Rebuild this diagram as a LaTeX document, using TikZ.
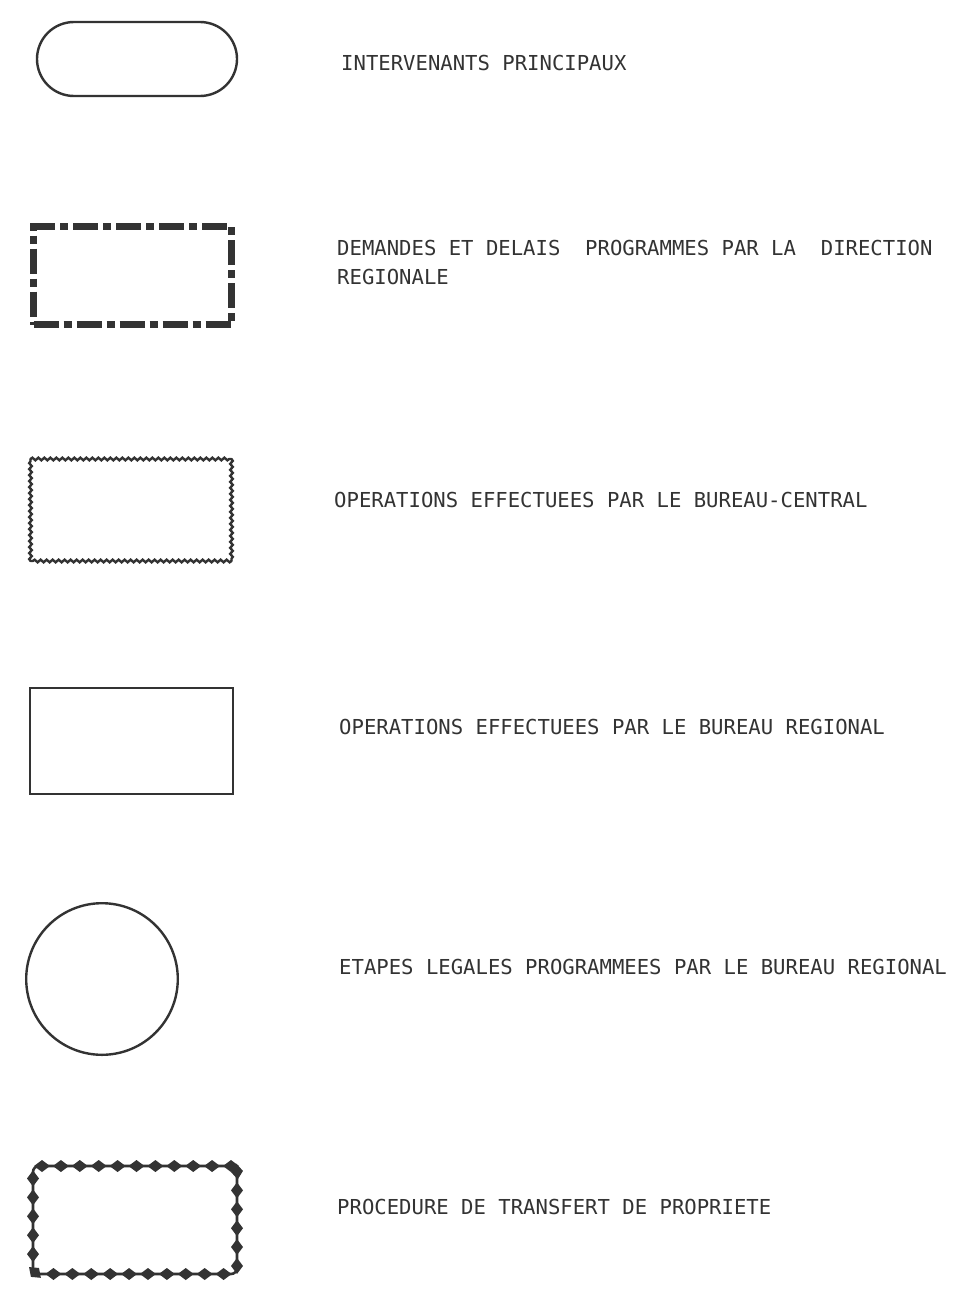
\documentclass[tikz,border=0pt]{standalone}
\usepackage{fontspec}
\newfontfamily\tw{DejaVu Sans Mono}
\usetikzlibrary{decorations.pathmorphing,decorations.markings}
\definecolor{ink}{HTML}{333333}
\begin{document}
\begin{tikzpicture}[x=1pt,y=-1pt,
  shp/.style={draw=ink, fill=none, inner sep=0pt, outer sep=0pt},
  lbl/.style={anchor=base west, inner sep=0pt, font=\tw\fontsize{20.6}{29}\selectfont, text=ink},
  stadium/.style={shp, rectangle, line width=2.4pt, rounded corners=37pt},
  dashbox/.style={shp, rectangle, line width=7pt, dash pattern=on 25pt off 5pt on 8pt off 5pt},
  snakeside/.style={draw=ink, line width=2.4pt, line cap=round, decorate, decoration={snake, amplitude=1.3pt, segment length=6pt}},
  plainbox/.style={shp, rectangle, line width=2.2pt},
  circ/.style={shp, circle, line width=2.4pt},
  chainbox/.style={shp, rectangle, line width=2.6pt, rounded corners=6pt,
    postaction={decorate, decoration={markings,
      mark=between positions 0 and 1 step 18.9pt with {\fill[ink, sharp corners] (-8,0)--(0,6)--(8,0)--(0,-6)--cycle;}}}}
]
\useasboundingbox[fill=white] (0,0) rectangle (954,1306);

\node[stadium, minimum width=200pt, minimum height=74pt] (s1) at (137,59) {};
\node[dashbox, minimum width=198pt, minimum height=98pt] (s2) at (132.5,275.5) {};
\node[inner sep=0pt, outer sep=0pt, minimum width=201pt, minimum height=102pt] (s3) at (131,510) {};
\draw[snakeside] (s3.north west) -- (s3.north east);
\draw[snakeside] (s3.north east) -- (s3.south east);
\draw[snakeside] (s3.south east) -- (s3.south west);
\draw[snakeside] (s3.south west) -- (s3.north west);
\node[plainbox, minimum width=203pt, minimum height=106pt] (s4) at (131.5,741) {};
\node[circ, minimum size=151.6pt] (s5) at (102,979) {};
\node[chainbox, minimum width=204pt, minimum height=108pt] (s6) at (135,1220) {};

\node[lbl] (t1) at (341,70.5) {INTERVENANTS PRINCIPAUX};
\node[lbl] (t2) at (337,255.5) {DEMANDES ET DELAIS\ \ PROGRAMMES PAR LA\ \ DIRECTION};
\node[lbl] (t2b) at (337,284.5) {REGIONALE};
\node[lbl] (t3) at (334,507.5) {OPERATIONS EFFECTUEES PAR LE BUREAU-CENTRAL};
\node[lbl] (t4) at (339,734.5) {OPERATIONS EFFECTUEES PAR LE BUREAU REGIONAL};
\node[lbl] (t5) at (339,974.5) {ETAPES LEGALES PROGRAMMEES PAR LE BUREAU REGIONAL};
\node[lbl] (t6) at (337,1214.5) {PROCEDURE DE TRANSFERT DE PROPRIETE};
\end{tikzpicture}
\end{document}
